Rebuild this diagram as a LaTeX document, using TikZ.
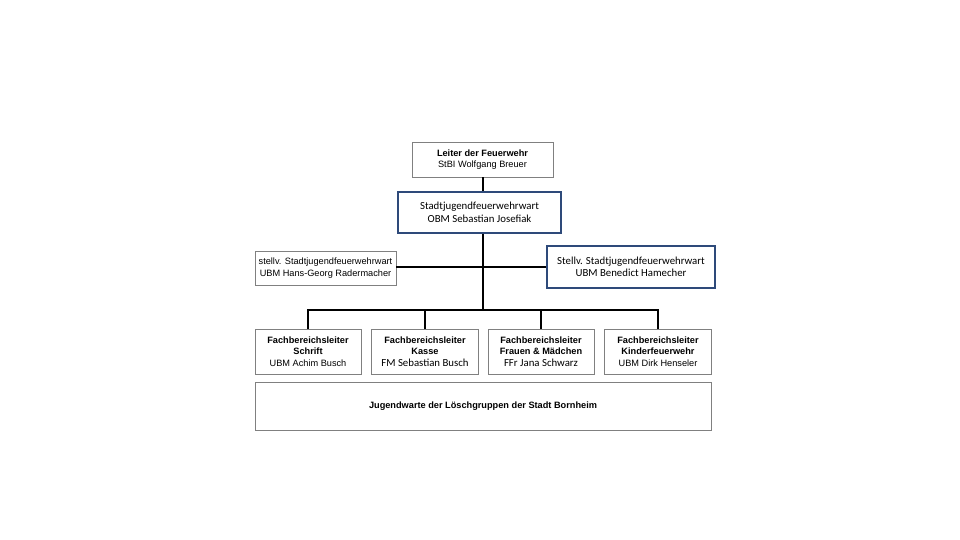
\documentclass[tikz,border=0pt]{standalone}
\usepackage{fontspec}
\setmainfont{Liberation Sans}
\newfontfamily\calib{Carlito}
\definecolor{boxgray}{HTML}{808080}
\definecolor{boxblue}{HTML}{2E4A7A}
\begin{document}
\begin{tikzpicture}[x=1pt,y=-1pt,
  graybox/.style={draw=boxgray,line width=0.8pt,fill=white,rectangle,align=center,inner sep=1pt,font=\fontsize{9.2}{11.6}\selectfont},
  bluebox/.style={draw=boxblue,line width=1.4pt,fill=white,rectangle,align=center,inner sep=1pt,font=\calib\fontsize{10.8}{12.5}\selectfont},
  conn/.style={draw=black,line width=1.5pt}]
\useasboundingbox (0,0) rectangle (960,540);
\fill[white] (0,0) rectangle (960,540);
\node[graybox,minimum width=141pt,minimum height=35pt] (leiter) at (482.5,159.5) {\textbf{Leiter der Feuerwehr}\\StBI Wolfgang Breuer};
\node[bluebox,minimum width=163pt,minimum height=41pt] (stadt) at (479.5,212.5) {Stadtjugendfeuerwehrwart\\OBM Sebastian Josefiak};
\node[graybox,minimum width=141pt,minimum height=34pt] (stL) at (325.5,268) {stellv. Stadtjugendfeuerwehrwart\\UBM Hans-Georg Radermacher};
\node[bluebox,minimum width=168pt,minimum height=42pt] (stR) at (631,267) {Stellv. Stadtjugendfeuerwehrwart\\UBM Benedict Hamecher};
\node[graybox,minimum width=106pt,minimum height=45pt] (b1) at (308,351.5) {\textbf{Fachbereichsleiter}\\\textbf{Schrift}\\UBM Achim Busch};
\node[graybox,minimum width=107pt,minimum height=45pt] (b2) at (425,351.5) {\textbf{Fachbereichsleiter}\\\textbf{Kasse}\\{\calib\fontsize{10.8}{11.6}\selectfont FM Sebastian Busch}};
\node[graybox,minimum width=106pt,minimum height=45pt] (b3) at (541,351.5) {\textbf{Fachbereichsleiter}\\\textbf{Frauen \& Mädchen}\\{\calib\fontsize{10.8}{11.6}\selectfont FFr Jana Schwarz}};
\node[graybox,minimum width=107pt,minimum height=45pt] (b4) at (658,351.5) {\textbf{Fachbereichsleiter}\\\textbf{Kinderfeuerwehr}\\UBM Dirk Henseler};
\node[graybox,minimum width=456pt,minimum height=48pt] (jw) at (483,406) {\textbf{Jugendwarte der Löschgruppen der Stadt Bornheim}};
\coordinate (hub) at (483,310);
\coordinate (mid) at (483,267);
\draw[conn] (leiter.south -| hub) -- (stadt.north -| hub);
\draw[conn] (stadt.south -| hub) -- (hub);
\draw[conn] (mid -| stL.east) -- (mid -| stR.west);
\draw[conn] (hub) -| (b1.north);
\draw[conn] (hub) -| (b2.north);
\draw[conn] (hub) -| (b3.north);
\draw[conn] (hub) -| (b4.north);
\end{tikzpicture}
\end{document}
